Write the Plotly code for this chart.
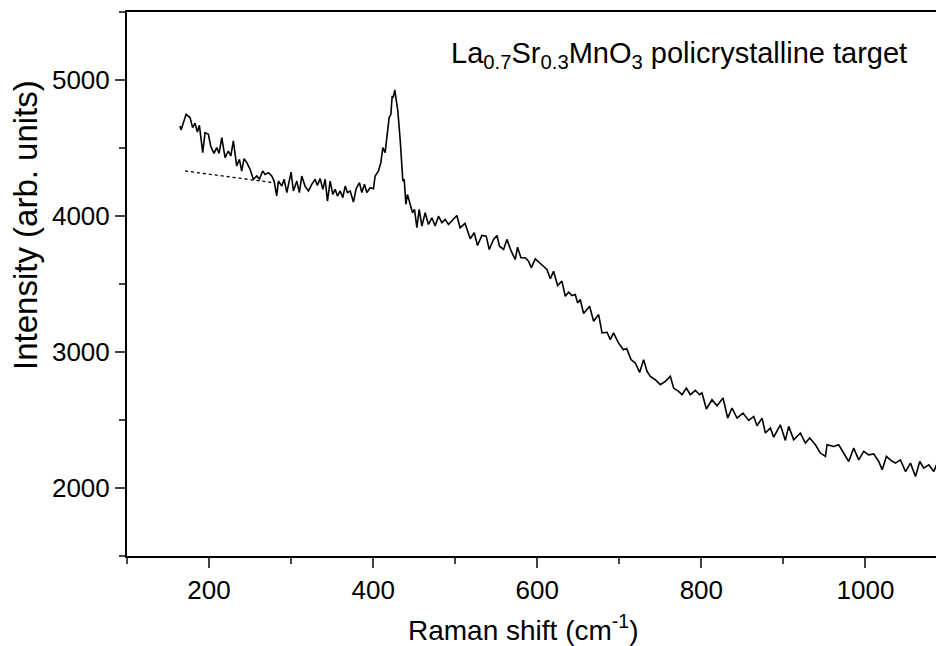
import plotly.graph_objects as go

raman_shift = [
    164.6, 165.9, 172.0, 176.8, 180.0, 182.9, 185.8, 188.2, 192.3, 195.1, 199.2, 202.0,
    206.0, 209.4, 212.2, 215.5, 219.5, 223.5, 226.5, 229.6, 233.7, 237.0, 239.8, 242.7,
    246.0, 250.0, 254.0, 258.2, 261.4, 265.4, 268.3, 272.4, 276.4, 279.3, 282.5, 284.5,
    288.7, 291.5, 294.8, 297.6, 300.0, 302.8, 307.0, 310.1, 313.0, 317.0, 321.1, 325.2,
    329.3, 332.0, 335.4, 338.7, 341.5, 344.3, 347.6, 350.8, 353.7, 356.5, 359.8, 363.0,
    365.9, 368.7, 372.0, 376.0, 379.3, 383.3, 386.2, 389.4, 392.3, 396.3, 400.4, 402.4,
    406.5, 409.4, 411.8, 414.6, 417.5, 419.5, 421.6, 423.2, 424.4, 426.4, 428.0, 430.1,
    432.9, 435.0, 436.2, 437.8, 439.9, 441.8, 445.1, 448.0, 450.4, 453.3, 456.1, 459.4,
    463.4, 467.4, 471.6, 475.6, 479.6, 483.8, 487.8, 491.8,
    502.0, 506.0, 512.0, 518.3, 523.2, 527.2, 532.5, 537.8, 541.5, 546.7, 550.9, 554.0,
    559.0, 563.0, 568.3, 573.2, 576.0, 580.1, 585.4, 589.4, 592.7, 597.6, 602.8, 607.7,
    611.8, 615.9, 619.9, 624.8, 630.1, 634.1, 638.2, 642.3, 646.3, 649.2, 652.4, 656.5,
    663.8, 668.7, 674.8, 679.0, 685.1, 689.0,
    693.0, 699.0, 705.0, 709.0, 714.3, 719.5, 724.8, 729.6, 733.8, 737.8, 743.9, 750.0,
    756.1, 762.2, 766.2, 772.3, 776.5, 781.7, 786.6, 792.7, 797.9, 800.8, 806.1, 813.0,
    819.1, 826.5, 832.1, 837.4, 843.5, 850.8, 857.7, 863.8, 867.9, 874.0, 878.0, 884.1,
    888.2, 896.3, 902.4, 906.5, 912.6, 920.7, 926.8, 932.1, 939.0, 945.1, 951.2, 953.3,
    961.3, 967.4, 973.5, 979.6, 985.7, 991.8, 997.9, 1004.0, 1010.1, 1016.2, 1020.4, 1025.6,
    1031.3, 1036.6, 1042.7, 1048.8, 1054.9, 1061.0, 1066.2, 1071.1, 1077.2, 1083.3, 1086.6,
]

intensity = [
    4662, 4633, 4748, 4724, 4650, 4682, 4618, 4667, 4466, 4613, 4601, 4515,
    4461, 4503, 4461, 4577, 4429, 4478, 4441, 4552, 4368, 4417, 4331, 4422,
    4393, 4343, 4270, 4294, 4270, 4331, 4306, 4319, 4294, 4257, 4147, 4257,
    4220, 4270, 4172, 4245, 4323, 4184, 4257, 4172, 4294, 4220, 4184, 4233,
    4270, 4225, 4275, 4196, 4270, 4110, 4257, 4159, 4196, 4147, 4184, 4135,
    4220, 4172, 4184, 4103, 4201, 4245, 4172, 4233, 4172, 4208, 4201, 4294,
    4331, 4393, 4503, 4466, 4613, 4724, 4748, 4883, 4871, 4927, 4859, 4773,
    4564, 4393, 4257, 4270, 4086, 4159, 4086, 4024, 4049, 3914, 4049, 3926,
    4024, 3938, 3987, 3926, 3999, 3951, 3975, 3938,
    4004, 3914, 3945, 3833, 3877, 3783, 3857, 3852, 3754, 3828, 3857, 3778,
    3754, 3828, 3741, 3680, 3771, 3693, 3693, 3668, 3619, 3685, 3656, 3631,
    3607, 3538, 3594, 3489, 3521, 3410, 3440, 3415, 3423, 3361, 3386, 3283,
    3337, 3226, 3275, 3140, 3145, 3091,
    3140, 3067, 3017, 3025, 2944, 2919, 2850, 2944, 2858, 2821, 2796, 2760,
    2784, 2821, 2735, 2710, 2686, 2735, 2686, 2718, 2686, 2700, 2581, 2649,
    2605, 2662, 2514, 2588, 2514, 2551, 2497, 2526, 2458, 2514, 2404, 2441,
    2374, 2465, 2350, 2453, 2355, 2404, 2330, 2367, 2318, 2257, 2232, 2318,
    2305, 2318, 2257, 2195, 2293, 2207, 2269, 2244, 2251, 2195, 2134, 2232,
    2202, 2183, 2207, 2121, 2183, 2085, 2195, 2146, 2170, 2121, 2170,
]

baseline_shift = [170.7, 278.4]
baseline_intensity = [4331, 4245]

x_tick_values = [200, 400, 600, 800, 1000]
y_tick_values = [2000, 3000, 4000, 5000]

FONT = "Liberation Sans, Arial, sans-serif"

fig = go.Figure()
fig.add_trace(go.Scatter(
    x=raman_shift, y=intensity, mode="lines",
    line=dict(color="black", width=1.6), showlegend=False,
))
fig.add_trace(go.Scatter(
    x=baseline_shift, y=baseline_intensity, mode="lines",
    line=dict(color="black", width=1.3, dash="dot"), showlegend=False,
))

fig.update_layout(
    width=936, height=646,
    margin=dict(l=127, r=0, t=12, b=90, autoexpand=False),
    paper_bgcolor="white", plot_bgcolor="white",
    font=dict(family=FONT, color="black", size=26),
    xaxis=dict(
        range=[100, 1086], tickvals=x_tick_values, ticks="outside", ticklen=10, tickwidth=1.5,
        showline=True, linecolor="black", linewidth=2, mirror=True, showgrid=False, zeroline=False,
        tickfont=dict(size=26),
        minor=dict(dtick=100, tick0=0, ticks="outside", ticklen=6, tickwidth=1.5, showgrid=False),
    ),
    yaxis=dict(
        range=[1500, 5500], tickvals=y_tick_values, ticks="outside", ticklen=10, tickwidth=1.5,
        showline=True, linecolor="black", linewidth=2, showgrid=False, zeroline=False,
        tickfont=dict(size=26),
        minor=dict(dtick=500, tick0=0, ticks="outside", ticklen=6, tickwidth=1.5, showgrid=False),
    ),
)

fig.add_annotation(
    text="Raman shift (cm<sup>-1</sup>)", xref="paper", yref="paper",
    x=(523 - 127) / 809, y=(556 - 628) / 544, showarrow=False,
    font=dict(size=28), xanchor="center", yanchor="middle",
)
fig.add_annotation(
    text="Intensity (arb. units)", xref="paper", yref="paper",
    x=(25 - 127) / 809, y=(556 - 225) / 544, showarrow=False, textangle=-90,
    font=dict(size=33), xanchor="center", yanchor="middle",
)
fig.add_annotation(
    text="La<sub>0.7</sub>Sr<sub>0.3</sub>MnO<sub>3</sub> policrystalline target",
    xref="paper", yref="paper",
    x=(679 - 127) / 809, y=(556 - 55) / 544, showarrow=False,
    font=dict(size=29), xanchor="center", yanchor="middle",
)

fig.write_html(
    "out.html",
    config={"displayModeBar": False},
    post_script="document.body.style.margin='0';document.body.style.overflow='hidden';",
)
